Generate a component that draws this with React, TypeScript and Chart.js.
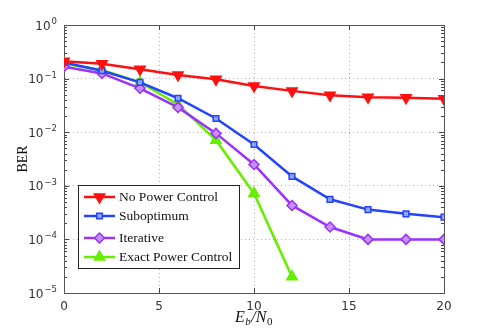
import { useEffect, useRef } from 'react';
import { Chart, registerables } from 'chart.js';
import { drawPoint } from 'chart.js/helpers';
Chart.register(...registerables);

const snr = [0, 2, 4, 6, 8, 10, 12, 14, 16, 18, 20];
const noPowerControl = [0.21, 0.19, 0.15, 0.117, 0.097, 0.073, 0.059, 0.049, 0.045, 0.044, 0.042];
const suboptimum = [0.2, 0.14, 0.085, 0.043, 0.018, 0.0059, 0.0015, 0.00056, 0.00036, 0.0003, 0.00026];
const iterative = [0.167, 0.125, 0.066, 0.029, 0.0095, 0.0025, 0.00043, 0.00017, 0.0001, 0.0001, 0.0001];
const exactPowerControl = [0.19, 0.145, 0.085, 0.033, 0.0071, 0.00072, 0.00002];
const seriesNames = ['No Power Control', 'Suboptimum', 'Iterative', 'Exact Power Control'];
const xTicks = [0, 5, 10, 15, 20];
const yTicks = [1e-5, 1e-4, 1e-3, 1e-2, 1e-1, 1];
const yTickExponents = ['−5', '−4', '−3', '−2', '−1', '0'];

const toPts = (ys: number[]) => ys.map((y, i) => ({ x: snr[i], y }));

export default function App() {
  const ref = useRef<HTMLCanvasElement | null>(null);
  useEffect(() => {
    if (!ref.current) return;
    const legendRows = [12, 31, 53, 72];
    const framePlugin = {
      id: 'frame',
      beforeDatasetsDraw(chart: any) {
        const { ctx, chartArea: a } = chart;
        const y = chart.scales.y;
        const x = chart.scales.x;
        ctx.save();
        ctx.strokeStyle = '#444';
        ctx.lineWidth = 1;
        ctx.beginPath();
        for (let d = -5; d < 0; d++) {
          for (let k = 2; k <= 9; k++) {
            const py = Math.round(y.getPixelForValue(k * Math.pow(10, d))) + 0.5;
            ctx.moveTo(a.left, py); ctx.lineTo(a.left + 3, py);
            ctx.moveTo(a.right, py); ctx.lineTo(a.right - 3, py);
          }
        }
        for (const v of yTicks) {
          const py = Math.round(y.getPixelForValue(v)) + 0.5;
          ctx.moveTo(a.left, py); ctx.lineTo(a.left + 5, py);
          ctx.moveTo(a.right, py); ctx.lineTo(a.right - 5, py);
        }
        for (const v of xTicks) {
          const px = Math.round(x.getPixelForValue(v)) + 0.5;
          ctx.moveTo(px, a.bottom); ctx.lineTo(px, a.bottom - 5);
          ctx.moveTo(px, a.top); ctx.lineTo(px, a.top + 5);
        }
        ctx.stroke();
        ctx.strokeStyle = '#555';
        ctx.strokeRect(Math.round(a.left) + 0.5, Math.round(a.top) + 0.5, Math.round(a.right - a.left), Math.round(a.bottom - a.top));
        ctx.restore();
      },
      afterDraw(chart: any) {
        const { ctx, chartArea: a } = chart;
        const yS = chart.scales.y;
        ctx.save();
        // y tick labels with superscript exponents
        ctx.fillStyle = '#333';
        yTicks.forEach((v, i) => {
          const py = yS.getPixelForValue(v);
          ctx.font = '8.5px "DejaVu Sans"';
          const ew = ctx.measureText(yTickExponents[i]).width;
          const right = a.left - 7;
          ctx.textAlign = 'right';
          ctx.textBaseline = 'alphabetic';
          ctx.fillText(yTickExponents[i], right, py - 1);
          ctx.font = '12px "DejaVu Sans"';
          ctx.fillText('10', right - ew - 1, py + 4.5);
        });
        // legend
        const lx = a.left + 14, ly = a.top + 160, lw = 161, lh = 83;
        ctx.fillStyle = '#fff';
        ctx.fillRect(lx, ly, lw, lh);
        ctx.strokeStyle = '#222';
        ctx.lineWidth = 1;
        ctx.strokeRect(Math.round(lx) + 0.5, Math.round(ly) + 0.5, lw, lh);
        chart.data.datasets.forEach((ds: any, i: number) => {
          const ry = ly + legendRows[i];
          ctx.strokeStyle = ds.borderColor;
          ctx.lineWidth = ds.borderWidth;
          ctx.beginPath();
          ctx.moveTo(lx + 6, ry); ctx.lineTo(lx + 37, ry);
          ctx.stroke();
          ctx.fillStyle = ds.pointBackgroundColor;
          ctx.strokeStyle = ds.borderColor;
          ctx.lineWidth = ds.pointBorderWidth;
          drawPoint(ctx, { pointStyle: ds.pointStyle, radius: ds.pointRadius, rotation: ds.pointRotation || 0, borderWidth: ds.pointBorderWidth }, lx + 21.5, ry);
          ctx.fillStyle = '#111';
          ctx.font = '13.5px "Liberation Serif"';
          ctx.textBaseline = 'middle';
          ctx.textAlign = 'left';
          ctx.fillText(ds.label, lx + 41, ry);
        });
        // x title
        const cx = (a.left + a.right) / 2;
        const by = 322;
        const parts = [
          { t: 'E', f: 'italic 16px "Liberation Serif"', dy: 0 },
          { t: 'b', f: 'italic 11px "Liberation Serif"', dy: 3 },
          { t: '/N', f: 'italic 16px "Liberation Serif"', dy: 0 },
          { t: '0', f: '11px "Liberation Serif"', dy: 3 },
        ];
        let total = 0;
        for (const p of parts) { ctx.font = p.f; total += ctx.measureText(p.t).width + 0.5; }
        let px = cx - total / 2;
        ctx.fillStyle = '#111';
        ctx.textAlign = 'left';
        ctx.textBaseline = 'alphabetic';
        for (const p of parts) {
          ctx.font = p.f;
          ctx.fillText(p.t, px, by + p.dy);
          px += ctx.measureText(p.t).width + 0.5;
        }
        // y title
        ctx.translate(23, (a.top + a.bottom) / 2);
        ctx.rotate(-Math.PI / 2);
        ctx.font = '14px "Liberation Serif"';
        ctx.textAlign = 'center';
        ctx.textBaseline = 'middle';
        ctx.fillText('BER', 0, 0);
        ctx.restore();
      },
    };

    const mk = (label: string, ys: number[], color: string, fill: string, style: string, r: number, rot = 0) => ({
      label,
      data: toPts(ys),
      borderColor: color,
      backgroundColor: color,
      borderWidth: 2.5,
      pointStyle: style,
      pointRadius: r,
      pointRotation: rot,
      pointBackgroundColor: fill,
      pointBorderColor: color,
      pointBorderWidth: 1.5,
      tension: 0,
      fill: false,
    });

    const chart = new Chart(ref.current, {
      type: 'line',
      data: {
        datasets: [
          mk(seriesNames[0], noPowerControl, '#ff1010', '#ff1010', 'triangle', 6, 180),
          mk(seriesNames[1], suboptimum, '#2244ff', '#8fa3ff', 'rect', 4),
          mk(seriesNames[2], iterative, '#9b30ff', '#c690ff', 'rectRot', 5),
          mk(seriesNames[3], exactPowerControl, '#66ee00', '#66ee00', 'triangle', 6),
        ],
      },
      plugins: [framePlugin],
      options: {
        animation: false,
        responsive: false,
        devicePixelRatio: 1,
        layout: { padding: { left: 0, top: 25, right: 47, bottom: 0 } },
        plugins: { legend: { display: false }, tooltip: { enabled: false } },
        scales: {
          x: {
            type: 'linear',
            min: 0,
            max: 20,
            afterBuildTicks: (axis: any) => { axis.ticks = xTicks.map((v) => ({ value: v })); },
            afterFit: (axis: any) => { axis.height = 37; },
            ticks: { font: { family: 'DejaVu Sans', size: 12 }, color: '#333', padding: 7, maxRotation: 0 },
            grid: { color: '#b0b0b0', lineWidth: 1, drawTicks: false },
            border: { display: true, color: '#333', width: 1, dash: [1, 3] },
          },
          y: {
            type: 'logarithmic',
            min: 1e-5,
            max: 1,
            afterBuildTicks: (axis: any) => { axis.ticks = yTicks.map((v) => ({ value: v })); },
            afterFit: (axis: any) => { axis.width = 64; },
            ticks: { display: false },
            grid: { color: '#b0b0b0', lineWidth: 1, drawTicks: false },
            border: { display: true, color: '#333', width: 1, dash: [1, 3] },
          },
        },
      } as any,
    });
    return () => chart.destroy();
  }, []);
  return (
    <div style={{ position: 'fixed', left: 0, top: 0, width: 491, height: 330, background: '#fff' }}>
      <canvas ref={ref} width={491} height={330} style={{ display: 'block' }} />
    </div>
  );
}
